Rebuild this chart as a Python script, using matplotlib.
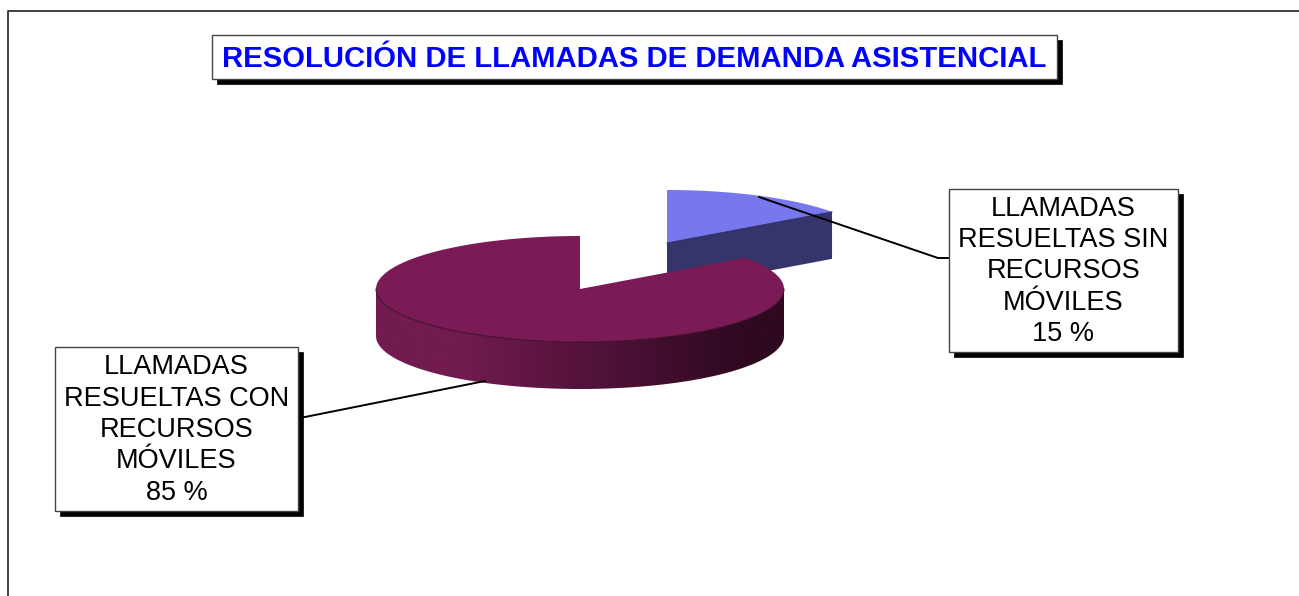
import numpy as np
import matplotlib.pyplot as plt
from matplotlib.patches import Polygon, Rectangle

plt.rcParams['font.family'] = ['Liberation Sans', 'DejaVu Sans']

# Values
title = "RESOLUCIÓN DE LLAMADAS DE DEMANDA ASISTENCIAL"
values = [15, 85]
labels = ["LLAMADAS\nRESUELTAS SIN\nRECURSOS\nMÓVILES\n15 %",
          "LLAMADAS\nRESUELTAS CON\nRECURSOS\nMÓVILES\n85 %"]

# Pie geometry, in pixels
rx = 204
ry = 53
depth = 47
blue_center = (667, 243)
maroon_center = (580, 289)


def rim(center, a):
    a = np.radians(a)
    return np.column_stack([center[0] + rx * np.cos(a), center[1] - ry * np.sin(a)])


def box(x0, y0, x1, y1, txt, dy=0, **kw):
    ax.add_patch(Rectangle((x0 + 5, y0 + 5), x1 - x0, y1 - y0, fc="black", ec="black", lw=0.5, zorder=5))
    ax.add_patch(Rectangle((x0, y0), x1 - x0, y1 - y0, fc="white", ec="#444444", lw=1, zorder=6))
    ax.text((x0 + x1) / 2, (y0 + y1) / 2 + dy, txt, ha="center", va="center", zorder=7, **kw)


fig = plt.figure(figsize=(12.99, 5.96), dpi=100)
ax = fig.add_axes([0, 0, 1, 1])

# Frame, open at the right and bottom
ax.plot([8.5, 8.5, 1299], [596, 11, 11], color="#333333", lw=1.3)

# Slices run clockwise from 12 o'clock
sweep = 360 * values[0] / sum(values)
end_angle = 90 - sweep

# Blue slice
cx, cy = blue_center
arc = rim(blue_center, np.linspace(90, end_angle, 60))
ax.add_patch(Polygon([(cx, cy), arc[-1], arc[-1] + [0, depth], (cx, cy + depth)],
                     fc="#35356b", ec="none", zorder=1))
ax.add_patch(Polygon(np.vstack([[(cx, cy)], arc]), fc="#7878ee", ec="none", zorder=2))
ax.plot([cx, arc[-1][0]], [cy, arc[-1][1]], color="#20205a", lw=0.6, zorder=2)

# Maroon slice: the side gets darker towards the right
cx, cy = maroon_center
front = rim(maroon_center, np.linspace(180, 360, 200))
side = Polygon(np.vstack([front, front[::-1] + [0, depth]]), fc="none", ec="none",
               transform=ax.transData)
ax.add_patch(side)
x = np.linspace(0, 1, 256)
t = np.clip((x - 0.2) / 0.7, 0, 1)
left = np.array([0x72, 0x1b, 0x51])
right = np.array([0x2e, 0x09, 0x20])
grad = (left + (right - left) * t[:, None]) / 255
img = ax.imshow(grad[None, :, :], extent=(cx - rx, cx + rx, cy + ry + depth, cy - ry),
                aspect="auto", zorder=3)
img.set_clip_path(side)

arc = rim(maroon_center, np.linspace(90, 360 + end_angle, 300))
ax.add_patch(Polygon(np.vstack([[(cx, cy)], arc]), fc="#7a1b55", ec="none", zorder=4))
ax.plot(front[:, 0], front[:, 1], color="#3a0c28", lw=0.7, zorder=4)

# Leader lines
ax.plot([759, 938, 949], [197, 258, 258], color="black", lw=1.4, zorder=4.5)
ax.plot([485, 305, 298], [381, 417, 417], color="black", lw=1.4, zorder=4.5)

# Boxes
box(212, 35, 1057, 79, title, dy=2, color="#0000ff", fontsize=21.1, fontweight="bold")
box(949, 189, 1178, 352, labels[0], dy=1, color="black", fontsize=19.5, linespacing=1.27)
box(55, 347, 298, 511, labels[1], dy=1, color="black", fontsize=19.5, linespacing=1.27)

ax.set_xlim(0, 1299)
ax.set_ylim(596, 0)
ax.axis("off")

fig.savefig("out.png", dpi=100)
